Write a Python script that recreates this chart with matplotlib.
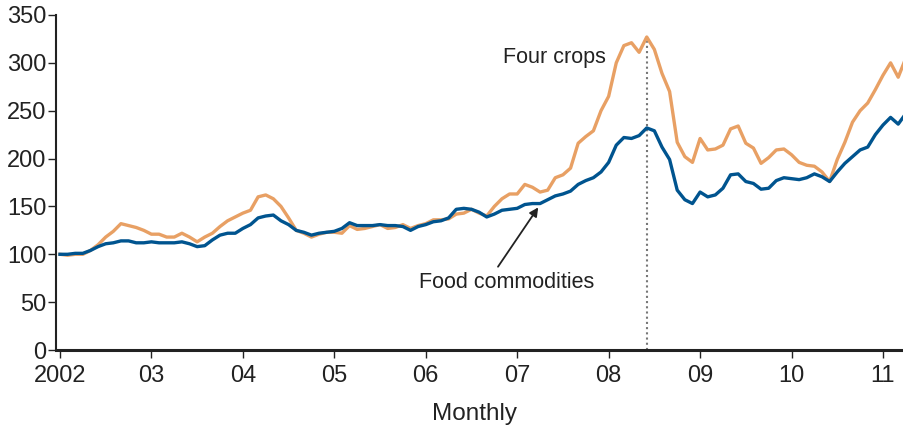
import numpy as np
import matplotlib
matplotlib.use("Agg")
import matplotlib.pyplot as plt

plt.rcParams['font.family'] = ['Liberation Sans', 'DejaVu Sans']

start_year = 2002
four_crops = [
    100, 99, 100, 100, 104, 110, 118, 124, 132, 130, 128, 125,
    121, 121, 118, 118, 122, 118, 113, 118, 122, 129, 135, 139,
    143, 146, 160, 162, 158, 150, 138, 125, 122, 118, 121, 123,
    123, 122, 130, 126, 127, 129, 131, 127, 128, 131, 127, 130,
    132, 136, 136, 137, 142, 143, 147, 143, 140, 150, 158, 163,
    163, 173, 170, 165, 167, 180, 183, 190, 216, 223, 229, 250,
    265, 300, 318, 321, 311, 327, 314, 289, 270, 217, 202, 196,
    221, 209, 210, 214, 231, 234, 216, 211, 195, 201, 209, 210,
    204, 196, 193, 192, 186, 176, 199, 217, 238, 250, 258, 272,
    287, 300, 285, 305,
]
food_commodities = [
    100, 100, 101, 101, 104, 108, 111, 112, 114, 114, 112, 112,
    113, 112, 112, 112, 113, 111, 108, 109, 115, 120, 122, 122,
    127, 131, 138, 140, 141, 135, 131, 125, 123, 120, 122, 123,
    124, 127, 133, 130, 130, 130, 131, 130, 130, 129, 125, 129,
    131, 134, 135, 138, 147, 148, 147, 144, 139, 142, 146, 147,
    148, 152, 153, 153, 157, 161, 163, 166, 173, 177, 180, 186,
    196, 214, 222, 221, 224, 232, 229, 212, 199, 167, 157, 153,
    165, 160, 162, 169, 183, 184, 176, 174, 168, 169, 177, 180,
    179, 178, 180, 184, 181, 176, 186, 195, 202, 209, 212, 225,
    235, 243, 236, 247,
]
year_ticks = list(range(2002, 2012))
year_labels = ["2002", "03", "04", "05", "06", "07", "08", "09", "10", "11"]
y_ticks = [0, 50, 100, 150, 200, 250, 300, 350]
marker_date = 2008 + 5 / 12
marker_value = 327

x = start_year + np.arange(len(four_crops)) / 12.0

fig = plt.figure(figsize=(9.04, 4.29), dpi=100)
ax = fig.add_axes([0.0619, 0.1841, 0.9381, 0.781])

orange = "#E8A064"
blue = "#00548F"
ink = "#222222"

ax.plot(x, four_crops, color=orange, lw=2.4, solid_joinstyle='round', zorder=3)
ax.plot(x, food_commodities, color=blue, lw=2.4, solid_joinstyle='round', zorder=4)
ax.plot([marker_date, marker_date], [0, marker_value], color="#777777", lw=1.5,
        linestyle=(0, (1, 1.5)), zorder=2)

ax.set_xlim(2001.956, 2011.23)
ax.set_ylim(0, 350)
ax.set_xticks(year_ticks)
ax.set_xticklabels(year_labels)
ax.set_yticks(y_ticks)

for s in ["top", "right"]:
    ax.spines[s].set_visible(False)
ax.spines["left"].set_linewidth(1.5)
ax.spines["bottom"].set_linewidth(2.2)
ax.spines["left"].set_color(ink)
ax.spines["bottom"].set_color(ink)
ax.tick_params(axis='both', labelsize=17, colors=ink, direction='out',
               length=6, width=1.0)
ax.tick_params(axis='y', pad=1)
ax.tick_params(axis='x', pad=5)
ax.set_xlabel("Monthly", fontsize=17.5, color=ink)
ax.xaxis.set_label_coords(0.493, -0.158)

ax.text(2007.41, 306, "Four crops", fontsize=15.5, ha='center', va='center', color=ink)
ax.text(2006.88, 71, "Food commodities", fontsize=15.5, ha='center', va='center', color=ink)
ax.annotate("", xy=(2007.23, 149), xytext=(2006.79, 87),
            arrowprops=dict(arrowstyle='-|>', color=ink, lw=1.3,
                            mutation_scale=13, shrinkA=0, shrinkB=0))

fig.savefig("out.png", dpi=100)
